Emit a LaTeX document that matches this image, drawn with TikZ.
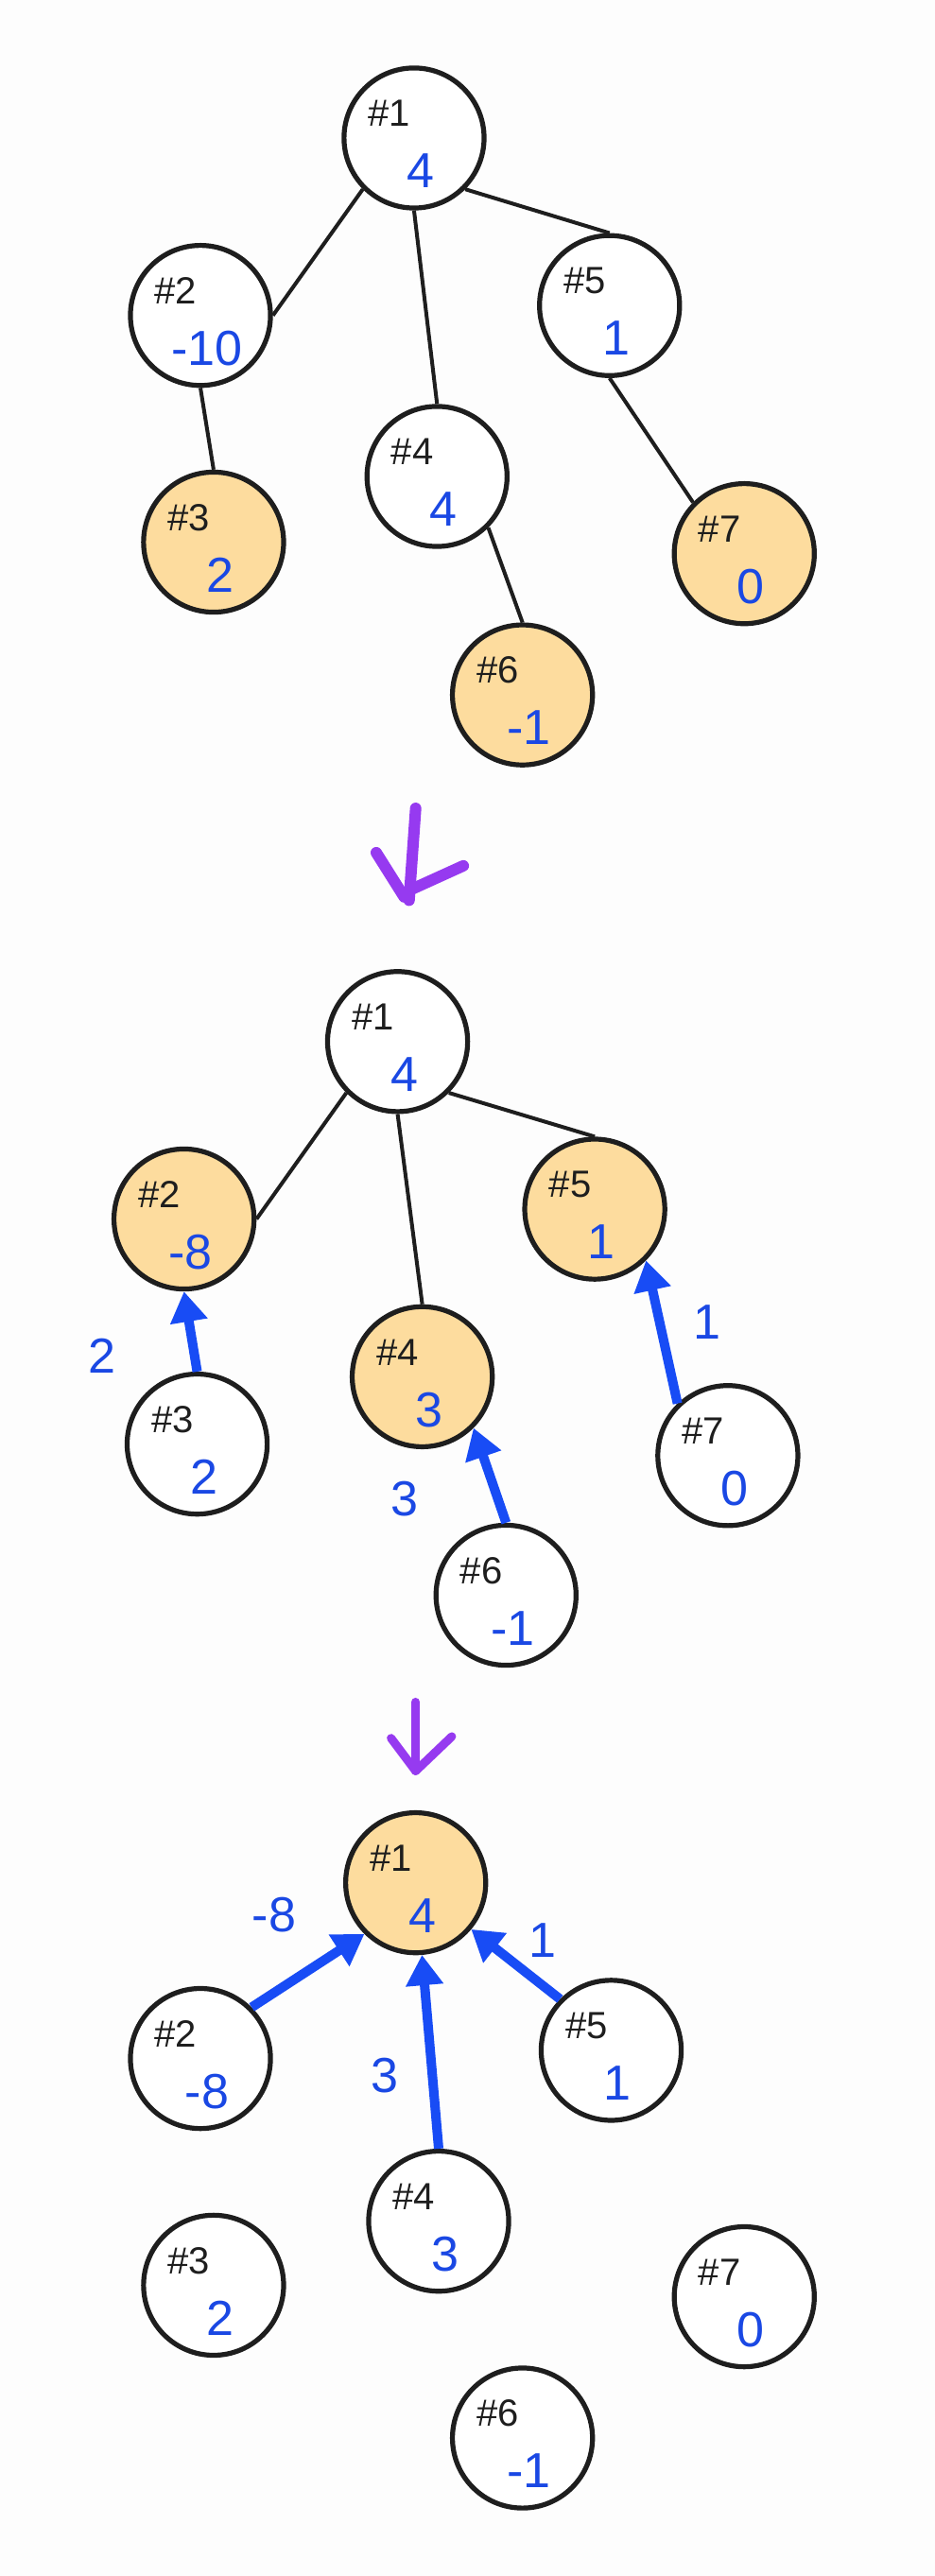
\documentclass[tikz,border=0pt]{standalone}
\usepackage{fontspec}
\setmainfont{Liberation Sans}
\usetikzlibrary{arrows.meta, positioning}
\definecolor{inkblack}{RGB}{30,30,30}
\definecolor{leaf}{RGB}{253,220,158}
\definecolor{valblue}{RGB}{26,72,228}
\definecolor{pushblue}{RGB}{24,76,245}
\definecolor{passpurple}{RGB}{150,58,240}
\definecolor{paper}{RGB}{253,253,253}
\tikzset{
  vtx/.style={circle, draw=inkblack, line width=2.6pt, fill=#1,
              minimum size=74pt, inner sep=0pt},
  vtx/.default=white,
  idlbl/.style={font=\fontsize{20}{20}\selectfont, text=inkblack, inner sep=0.5pt},
  vallbl/.style={font=\fontsize{26}{26}\selectfont, text=valblue, inner sep=0.5pt},
  edge/.style={line width=2pt, draw=inkblack},
  push/.style={-{Triangle[length=16pt, width=19pt]}, line width=5pt, draw=pushblue},
  elbl/.style={font=\fontsize{26}{26}\selectfont, text=valblue},
  nextpass/.style={line width=#1, draw=passpurple, line cap=round, line join=round},
}

\begin{document}
\begin{tikzpicture}[x=0.868pt, y=-0.868pt]
  \fill[paper] (0,0) rectangle (569,1568);
  \useasboundingbox (0,0) rectangle (569,1568);

  % first pass: leaves
  \foreach \n/\x/\y/\v/\f in {1/252/84/4/white, 2/122/192/-10/white, 3/130/330/2/leaf,
      4/266/290/4/white, 5/371/186/1/white, 6/318/423/-1/leaf, 7/453/337/0/leaf}{
    \node[vtx=\f] (p1n\n) at (\x,\y) {};
    \node[idlbl] (p1id\n) at ([shift={(-15,-15)}]p1n\n.center) {\#\n};
    \node[vallbl] (p1v\n) at ([shift={(4,20)}]p1n\n.center) {\v};
  }
  \draw[edge] (p1n1.225) -- (p1n2.east);
  \draw[edge] (p1n1.south) -- (p1n4.north);
  \draw[edge] (p1n1.-45) -- (p1n5.north);
  \draw[edge] (p1n2.south) -- (p1n3.north);
  \draw[edge] (p1n4.-45) -- (p1n6.north);
  \draw[edge] (p1n5.south) -- (p1n7.135);

  \draw[nextpass=6pt] (253,492) -- (249,548);
  \draw[nextpass=6pt] (229,519) -- (246,546) -- (249,542) -- (282,527);

  % second pass: middle level
  \foreach \n/\x/\y/\v/\f in {1/242/634/4/white, 2/112/742/-8/leaf, 3/120/879/2/white,
      4/257/838/3/leaf, 5/362/736/1/leaf, 6/308/971/-1/white, 7/443/886/0/white}{
    \node[vtx=\f] (p2n\n) at (\x,\y) {};
    \node[idlbl] (p2id\n) at ([shift={(-15,-15)}]p2n\n.center) {\#\n};
    \node[vallbl] (p2v\n) at ([shift={(4,20)}]p2n\n.center) {\v};
  }
  \draw[edge] (p2n1.225) -- (p2n2.east);
  \draw[edge] (p2n1.south) -- (p2n4.north);
  \draw[edge] (p2n1.-45) -- (p2n5.north);
  \draw[push] (p2n3.north) -- (p2n2.south) node[elbl, pos=0.2, left=36pt] (p2e2) {2};
  \draw[push] (p2n6.north) -- (p2n4.-45) node[elbl, pos=0.25, left=36pt] (p2e4) {3};
  \draw[push] (p2n7.134) -- (p2n5.-45) node[elbl, pos=0.57, right=12pt] (p2e5) {1};

  \draw[nextpass=4.5pt] (253,1036) -- (253,1078);
  \draw[nextpass=4.5pt] (238,1058) -- (253,1078) -- (275,1057);

  % third pass: root
  \foreach \n/\x/\y/\v/\f in {1/253/1146/4/leaf, 2/122/1253/-8/white, 3/130/1391/2/white,
      4/267/1352/3/white, 5/372/1248/1/white, 6/318/1484/-1/white, 7/453/1398/0/white}{
    \node[vtx=\f] (p3n\n) at (\x,\y) {};
    \node[idlbl] (p3id\n) at ([shift={(-15,-15)}]p3n\n.center) {\#\n};
    \node[vallbl] (p3v\n) at ([shift={(4,20)}]p3n\n.center) {\v};
  }
  \draw[push] (p3n2.45) -- (p3n1.225) node[elbl, pos=0.2, above=26pt] (p3e2) {-8};
  \draw[push] (p3n4.north) -- (p3n1.-85) node[elbl, pos=0.38, left=12pt] (p3e4) {3};
  \draw[push] (p3n5.135) -- (p3n1.-40) node[elbl, pos=0.2, above=9pt] (p3e5) {1};
\end{tikzpicture}
\end{document}
